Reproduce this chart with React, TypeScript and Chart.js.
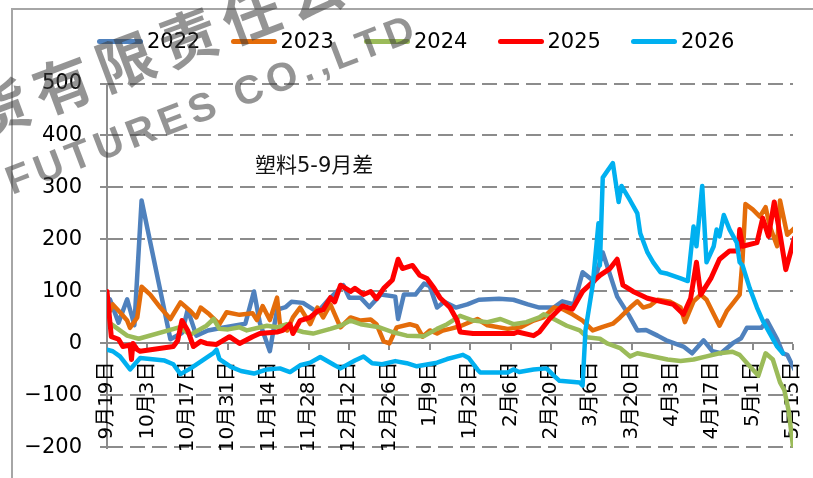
import { useEffect, useRef } from 'react';
import { Chart, registerables } from 'chart.js';

Chart.register(...registerables);

const SERIES = ['2022', '2023', '2024', '2025', '2026'];
const COLORS = ['#4F81BD', '#E46C0A', '#9BBB59', '#FF0000', '#00B0F0'];
const TICK_LABELS = ['9月19日', '10月3日', '10月17日', '10月31日', '11月14日', '11月28日', '12月12日', '12月26日', '1月9日', '1月23日', '2月6日', '2月20日', '3月6日', '3月20日', '4月3日', '4月17日', '5月1日', '5月15日'];
const TITLE = '塑料5-9月差';
const WATERMARK_CN = '期货有限责任公司';
const WATERMARK_EN = 'FUTURES CO.,LTD';

// x = days after 9月19日
const DAYS_2022 = [1, 4, 7, 9.5, 12, 22, 26, 28, 31, 35, 40, 48, 51, 53, 56.5, 59, 62, 64, 68, 73, 77, 82, 84, 88, 91, 95, 100, 101, 103, 107, 110, 112, 114.5, 117, 121, 125, 129, 136, 141, 146, 150, 155, 158, 162, 165, 169, 172, 177, 181, 184, 187, 191, 194, 200, 203, 207, 210, 213, 217, 220, 222, 227, 229, 232.5, 234.5, 236, 238.5];
const VALS_2022 = [85, 40, 85, 35, 275, 8, 20, 65, 15, 25, 30, 38, 100, 40, -15, 65, 70, 80, 78, 60, 85, 112, 88, 88, 70, 94, 90, 47, 94, 94, 115, 110, 69, 80, 69, 75, 84, 86, 84, 75, 69, 69, 81, 75, 137, 119, 175, 90, 55, 25, 26, 15, 6, -6, -19, 6, -15, -19, 0, 10, 30, 30, 44, 8, -19, -22, -50];

const DAYS_2023 = [1, 2, 4.5, 7, 8, 10.5, 12, 15, 18.5, 22, 25.5, 29, 31, 32.5, 35.5, 39, 41.5, 46, 50.5, 52, 54, 56.5, 59, 60, 62.5, 64.5, 67, 70.5, 73, 75, 77.5, 81, 84.5, 88, 91.5, 93.5, 96, 98, 100.5, 105, 107.5, 109.5, 112, 114.5, 116.5, 119, 122.5, 128.5, 132, 139, 143.5, 148, 151.5, 155, 158, 161.5, 165, 168.5, 172, 175.5, 178, 181.5, 184, 186, 188.5, 191, 195.5, 199, 200.5, 203.5, 206, 208, 212.5, 215, 219.5, 220.5, 221.5, 224, 226.5, 228.5, 230, 232.5, 233.5, 236, 238.5];
const VALS_2023 = [62, 75, 60, 44, 30, 50, 109, 94, 69, 47, 79, 62, 50, 69, 56, 37, 60, 55, 58, 45, 72, 45, 88, 37, 25, 50, 69, 37, 69, 50, 75, 31, 50, 44, 46, 37, 4, 0, 31, 37, 33, 13, 25, 19, 25, 28, 33, 47, 35, 28, 31, 44, 50, 69, 66, 56, 44, 25, 32, 38, 50, 69, 81, 69, 73, 84, 80, 69, 41, 81, 94, 84, 34, 62, 94, 162, 268, 258, 244, 262, 225, 187, 275, 209, 222];

const DAYS_2024 = [1.5, 7, 11, 25, 29, 34.5, 37, 39, 42, 46, 48.5, 55.5, 59, 62.5, 64.5, 68, 71.5, 77.5, 81, 84.5, 88, 94.5, 99, 104, 110, 114.5, 118, 122.5, 127, 132, 136.5, 141, 145.5, 150, 151.5, 155, 159.5, 164, 166.5, 171, 173.5, 178, 181.5, 184, 189.5, 194.5, 199, 203.5, 208, 212.5, 217, 219.5, 223, 226, 228.5, 231, 233.5, 235, 236.5, 238];
const VALS_2024 = [37, 15, 9, 31, 17, 34, 47, 28, 27, 31, 25, 34, 31, 37, 28, 22, 19, 28, 34, 44, 37, 31, 22, 15, 14, 28, 37, 53, 44, 41, 47, 37, 41, 50, 56, 47, 34, 25, 12, 9, 0, -9, -25, -19, -25, -31, -34, -31, -25, -19, -16, -22, -44, -62, -19, -31, -75, -90, -130, -198];

const DAYS_2025 = [0, 1.5, 4, 5.5, 8, 8.5, 9, 10.5, 11.5, 23, 24.5, 26, 28, 30, 32.5, 34.5, 38, 42.5, 46, 50.5, 53, 59, 61, 63.5, 64.5, 67, 70.5, 73, 75, 77.5, 79, 81, 84.5, 86, 89, 91.5, 93.5, 96, 99, 101, 102.5, 106, 108.5, 111, 113.5, 115.5, 119, 121.5, 122.5, 127, 141, 142.5, 148, 150, 153.5, 158, 161.5, 165, 171, 174.5, 177, 179, 182.5, 187.5, 192, 196.5, 200, 202.5, 204.5, 206, 209.5, 212.5, 216, 219, 219.5, 220.5, 225.5, 227.5, 229.5, 231.5, 233.5, 235.5, 238.5];
const VALS_2025 = [100, 13, 8, -6, -3, -31, 0, -12, -15, -6, 5, 44, 25, -6, 4, 0, -2, 13, 0, 13, 19, 22, 25, 37, 19, 44, 50, 62, 65, 88, 80, 112, 100, 106, 94, 100, 86, 106, 122, 162, 144, 150, 131, 125, 106, 88, 69, 44, 22, 19, 19, 22, 15, 22, 47, 72, 66, 100, 131, 144, 162, 112, 100, 87, 81, 75, 56, 87, 156, 94, 125, 162, 178, 178, 219, 187, 194, 241, 206, 272, 210, 142, 203];

const DAYS_2026 = [0, 2, 4.5, 8, 11.5, 20, 23, 25.5, 29, 32.5, 37, 38, 39, 43, 46.5, 51, 55.5, 60, 63.5, 67, 70.5, 74, 79, 81, 86, 89, 92, 95.5, 100, 104, 107.5, 114.5, 118, 121.5, 123.5, 125.5, 128.5, 129.5, 139, 141, 143, 148, 152.5, 155, 157, 164, 165, 166, 168.5, 170.5, 171, 172, 175.5, 177.5, 178.5, 181.5, 184, 185, 187.5, 189.5, 192, 194.5, 199, 201.5, 203.5, 204.5, 206.5, 208, 210.5, 211.5, 212.5, 214, 216, 218.5, 219.5, 220.5, 223, 225.5, 227.5, 230, 232.5, 234.5];
const VALS_2026 = [-12, -15, -25, -50, -28, -33, -40, -59, -48, -35, -18, -12, -30, -45, -53, -58, -50, -48, -55, -42, -37, -26, -42, -48, -33, -25, -38, -40, -34, -38, -44, -37, -30, -25, -22, -28, -50, -56, -56, -50, -55, -50, -48, -62, -72, -75, -81, 25, 112, 231, 150, 319, 347, 272, 303, 275, 250, 212, 175, 156, 137, 134, 125, 120, 225, 187, 303, 156, 187, 219, 206, 247, 219, 194, 156, 150, 106, 69, 44, 19, -6, -19];

const ALL_DAYS = [DAYS_2022, DAYS_2023, DAYS_2024, DAYS_2025, DAYS_2026];
const ALL_VALS = [VALS_2022, VALS_2023, VALS_2024, VALS_2025, VALS_2026];

const X_MAX = 238;
const X_STEP = 14;
const Y_MIN = -200;
const Y_MAX = 500;
const Y_STEP = 100;

const GRID = 'rgba(0,0,0,0.45)';
const FRAME = 'rgba(0,0,0,0.35)';
const FONT = '"DejaVu Sans", "Noto Sans CJK SC", sans-serif';

// dashed grid, axis lines and tick marks, placed from the chart's own scales
const axisBars = {
  id: 'axisBars',
  beforeDatasetsDraw(chart: any) {
    const { ctx, chartArea: a, scales } = chart;
    const xs = scales.x;
    const ys = scales.y;
    const left = Math.round(a.left);
    const right = Math.round(a.right);
    const p0 = Math.round(ys.getPixelForValue(0)) - 1;
    ctx.save();
    ctx.fillStyle = GRID;
    for (const t of ys.ticks) {
      const py = Math.round(ys.getPixelForValue(t.value)) - 1;
      ctx.fillRect(left - 7, py, 6, 2);
      if (t.value === 0) continue;
      for (let xx = left + 1; xx < right; xx += 22) {
        ctx.fillRect(xx, py, Math.min(15, right - xx), 2);
      }
    }
    ctx.fillRect(left - 1, Math.round(a.top) - 1, 2, Math.round(a.bottom - a.top) + 2);
    ctx.fillRect(left + 1, p0, right - left - 1, 2);
    for (const t of xs.ticks) {
      const px = Math.round(xs.getPixelForValue(t.value)) - 1;
      if (px <= left) continue;
      ctx.fillRect(px, p0 + 2, 2, 6);
    }
    ctx.restore();
  },
};

export default function App() {
  const ref = useRef<HTMLCanvasElement | null>(null);

  useEffect(() => {
    const canvas = ref.current;
    if (!canvas) return;
    const chart = new Chart(canvas, {
      type: 'line',
      data: {
        datasets: SERIES.map((name, i) => ({
          label: name,
          data: ALL_DAYS[i].map((d, j) => ({ x: d, y: ALL_VALS[i][j] })),
          borderColor: COLORS[i],
          backgroundColor: COLORS[i],
          borderWidth: i === 3 ? 5 : 4.5,
          pointRadius: 0,
          tension: 0,
          fill: false,
          borderJoinStyle: 'round' as const,
          borderCapStyle: 'round' as const,
          order: SERIES.length - i,
        })),
      },
      options: {
        responsive: true,
        maintainAspectRatio: false,
        animation: false,
        layout: { padding: { left: 20, right: 20, top: 83.5, bottom: 22 } },
        plugins: { legend: { display: false }, tooltip: { enabled: false } },
        scales: {
          x: {
            type: 'linear',
            min: 0,
            max: X_MAX,
            position: { y: 0 } as any,
            grid: { display: true, drawOnChartArea: false, drawTicks: true, tickLength: 6, tickColor: 'rgba(0,0,0,0)', tickWidth: 2 },
            border: { display: false },
            ticks: {
              stepSize: X_STEP,
              autoSkip: false,
              minRotation: 90,
              maxRotation: 90,
              padding: 12,
              color: '#000',
              font: { family: FONT, size: 20 },
              callback: (v: any) => TICK_LABELS[Math.round(Number(v) / X_STEP)] ?? '',
            },
            afterFit: (s: any) => {
              s.paddingLeft = 0;
              s.paddingRight = 0;
            },
          },
          y: {
            min: Y_MIN,
            max: Y_MAX,
            position: 'left',
            grid: { display: true, drawOnChartArea: false, drawTicks: true, tickLength: 7, tickColor: 'rgba(0,0,0,0)', tickWidth: 2 },
            border: { display: false },
            ticks: {
              stepSize: Y_STEP,
              padding: 18,
              color: '#000',
              font: { family: FONT, size: 21 },
              callback: (v: any) => String(v).replace('-', '\u2212'),
            },
            afterFit: (s: any) => {
              s.width = 87;
            },
          },
        },
      },
      plugins: [axisBars],
    } as any);
    return () => chart.destroy();
  }, []);

  return (
    <div style={{ position: 'fixed', left: 0, top: 0, width: 813, height: 478, overflow: 'hidden', background: '#fff', fontFamily: FONT }}>
      <div style={{ position: 'absolute', left: 0, top: 0, width: 813, height: 478 }}>
        <canvas ref={ref} />
      </div>
      <div style={{ position: 'absolute', left: 11, top: 8, width: 900, height: 600, borderLeft: `2px solid ${FRAME}`, borderTop: `2px solid ${FRAME}`, pointerEvents: 'none' }} />
      {SERIES.map((name, i) => (
        <div key={name} style={{ position: 'absolute', left: 97 + i * 133.5, top: 31, height: 21, display: 'flex', alignItems: 'center', whiteSpace: 'nowrap' }}>
          <span style={{ display: 'inline-block', width: 46, height: 5, borderRadius: 3, background: COLORS[i], marginRight: 4 }} />
          <span style={{ fontSize: 21, lineHeight: '21px', color: '#000' }}>{name}</span>
        </div>
      ))}
      <div style={{ position: 'absolute', left: 255, top: 155, fontSize: 21, lineHeight: '21px', color: '#111', whiteSpace: 'nowrap' }}>{TITLE}</div>
      <div style={{ position: 'absolute', left: -90.7, top: 110, height: 58, lineHeight: '58px', fontSize: 58, fontWeight: 700, letterSpacing: 9, fontFamily: '"Noto Sans CJK SC", sans-serif', color: 'rgba(60,60,60,0.55)', whiteSpace: 'nowrap', transform: 'rotate(-20.5deg)', transformOrigin: '0 50%', pointerEvents: 'none' }}>{WATERMARK_CN}</div>
      <div style={{ position: 'absolute', left: 6.6, top: 162.4, height: 40, lineHeight: '40px', fontSize: 40, fontWeight: 700, letterSpacing: 5.5, fontFamily: '"Liberation Sans", Arial, sans-serif', color: 'rgba(60,60,60,0.55)', whiteSpace: 'nowrap', transform: 'rotate(-21deg)', transformOrigin: '0 50%', pointerEvents: 'none' }}>{WATERMARK_EN}</div>
    </div>
  );
}
